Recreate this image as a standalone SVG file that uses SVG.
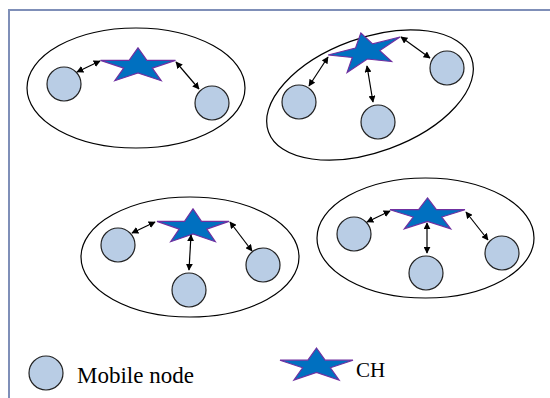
<svg xmlns="http://www.w3.org/2000/svg" width="550" height="398" viewBox="0 0 550 398">
<style>
.frame{fill:none;stroke:#7F8FB8;stroke-width:2}
.cl{fill:none;stroke:#000;stroke-width:1.2}
.mn{fill:#B9CDE5;stroke:#222;stroke-width:1.2}
.ch{fill:#0070C0;stroke:#7030A0;stroke-width:1.2;stroke-linejoin:miter}
.ln{stroke:#000;stroke-width:1.2;fill:none;marker-start:url(#ah);marker-end:url(#ah)}
.lbl{font-family:"Liberation Serif","Times New Roman",serif;fill:#000}
</style>
<defs>
<marker id="ah" viewBox="0 0 10 10" refX="9" refY="5" markerWidth="7" markerHeight="7" markerUnits="userSpaceOnUse" orient="auto-start-reverse">
<path d="M0,0 L10,5 L0,10 Z" fill="#000"/>
</marker>
</defs>
<path class="frame" d="M9,400 L9,10 L552,10"/>
<g id="cluster1">
<ellipse class="cl" cx="136" cy="88" rx="109" ry="60"/>
<polygon class="ch" points="138,47.8 146.9,60.4 175.5,60.4 152.3,68.1 161.2,80.7 138,73 114.8,80.7 123.7,68.1 100.5,60.4 129.1,60.4"/>
<circle class="mn" cx="64" cy="84" r="17"/>
<circle class="mn" cx="212" cy="103" r="17"/>
</g>
<g id="cluster2">
<ellipse class="cl" cx="370" cy="95" rx="108" ry="57" transform="rotate(-20 370 95)"/>
<polygon class="ch" points="360.8,33 372.6,43.9 400,37 379.8,50.6 391.6,61.5 367.3,59 347.1,72.6 352.3,57.5 328.1,55 355.5,48.1"/>
<circle class="mn" cx="299" cy="102" r="17"/>
<circle class="mn" cx="378" cy="122" r="17"/>
<circle class="mn" cx="447" cy="68" r="17"/>
</g>
<g id="cluster3">
<ellipse class="cl" cx="190" cy="257" rx="109" ry="60"/>
<polygon class="ch" points="193,208.8 201.5,221.4 229,221.4 206.8,229.1 215.3,241.7 193,234 170.7,241.7 179.2,229.1 157,221.4 184.5,221.4"/>
<circle class="mn" cx="118" cy="245" r="17"/>
<circle class="mn" cx="189" cy="290" r="17"/>
<circle class="mn" cx="263" cy="265" r="17"/>
</g>
<g id="cluster4">
<ellipse class="cl" cx="425.5" cy="238" rx="108.5" ry="60"/>
<polygon class="ch" points="427.5,197.9 436.4,209.7 465,209.7 441.8,217 450.7,228.8 427.5,221.5 404.3,228.8 413.2,217 390,209.7 418.6,209.7"/>
<circle class="mn" cx="354" cy="234" r="17"/>
<circle class="mn" cx="426" cy="273" r="17"/>
<circle class="mn" cx="502" cy="253" r="17"/>
</g>
<g id="connectors">
<line class="ln" x1="77" y1="72" x2="100" y2="61"/>
<line class="ln" x1="176" y1="62" x2="199" y2="89"/>
<line class="ln" x1="309" y1="86" x2="328" y2="57"/>
<line class="ln" x1="367" y1="66" x2="373" y2="102"/>
<line class="ln" x1="401" y1="37" x2="430" y2="58"/>
<line class="ln" x1="132" y1="233" x2="155" y2="222"/>
<line class="ln" x1="191" y1="235" x2="189" y2="270"/>
<line class="ln" x1="230" y1="222" x2="252" y2="251"/>
<line class="ln" x1="367" y1="222" x2="390" y2="211"/>
<line class="ln" x1="427" y1="223" x2="427" y2="253"/>
<line class="ln" x1="466" y1="212" x2="488" y2="240"/>
</g>
<g id="legend-mobile">
<circle class="mn" cx="46" cy="373" r="17"/>
<text class="lbl" x="77" y="383" font-size="23" font-family="Liberation Serif, serif">Mobile node</text>
</g>
<g id="legend-ch">
<polygon class="ch" points="316.5,348 325.1,360.2 353,360.2 330.4,367.8 339.1,380 316.5,372.5 293.9,380 302.6,367.8 280,360.2 307.9,360.2"/>
<text class="lbl" x="356" y="377" font-size="21" font-family="Liberation Serif, serif">CH</text>
</g>
</svg>
